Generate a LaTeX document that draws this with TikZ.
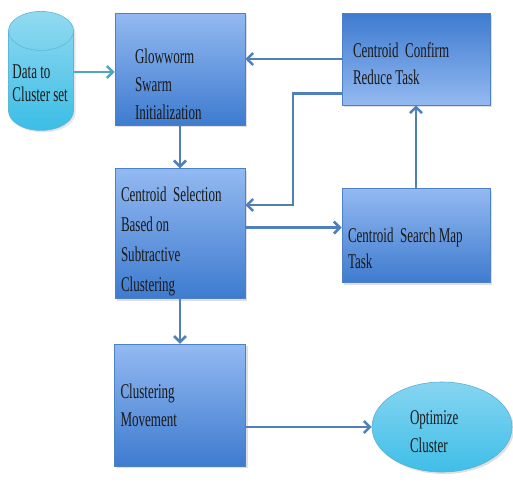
\documentclass[tikz,border=0pt]{standalone}
\usepackage{fontspec}
\setmainfont{Liberation Serif}[FakeStretch=0.62]
\usetikzlibrary{arrows.meta,positioning,shapes.geometric,shadows}

\definecolor{boxtop}{HTML}{93B9F1}
\definecolor{boxbot}{HTML}{3E7BCF}
\definecolor{boxedge}{HTML}{4D80C4}
\definecolor{flowblue}{HTML}{4F80BC}
\definecolor{flowteal}{HTML}{4DA5BE}
\definecolor{cylbody}{HTML}{3BBDE6}
\definecolor{cyltop}{HTML}{92DAF0}
\definecolor{cyledge}{HTML}{5DB8D8}
\definecolor{ovaltop}{HTML}{86D5F1}
\definecolor{ovalbot}{HTML}{3FBEE8}
\definecolor{ovaledge}{HTML}{5AB0D6}

\begin{document}
\begin{tikzpicture}[x=1pt, y=-1pt, node distance=43pt,
  every node/.style={font=\fontsize{21}{28}\selectfont, text=black!90, align=flush left},
  sink/.style={execute at begin node={\rule{0pt}{#1}}},
  lift/.style={execute at end node={\rule[-#1]{0pt}{0pt}}},
  box/.style={rectangle, draw=boxedge, line width=0.6pt, top color=boxtop, bottom color=boxbot,
    inner xsep=6pt, inner ysep=1pt, drop shadow={opacity=0.25, shadow xshift=2pt, shadow yshift=-2pt}},
  flow/.style={draw=flowblue, line width=2.6pt, -{Straight Barb[length=6pt,width=12pt]}}]
\useasboundingbox (0,0) rectangle (513,483);

% input data and the process boxes
\node (data) [cylinder, shape border rotate=90, aspect=0.6, lift=4pt, draw=cyledge, line width=0.6pt,
  top color=cyltop, bottom color=cylbody, minimum width=62pt, minimum height=119pt,
  inner xsep=4pt, text width=57pt, font=\fontsize{21}{23}\selectfont,
  drop shadow={opacity=0.2, shadow xshift=2pt, shadow yshift=-2pt}] at (41,85.5) {Data to\\Cluster set};
\node (glow) [box, sink=46pt, minimum width=130pt, minimum height=112pt, inner xsep=20pt, text width=90pt] at (180,69) {Glowworm\\Swarm\\Initialization};
\node (sel) [box, sink=31pt, below=of glow, minimum width=130pt, minimum height=130pt, text width=118pt,
  font=\fontsize{21}{30}\selectfont] {Centroid\ \ Selection\\Based on\\Subtractive\\Clustering};
\node (move) [box, below=45pt of sel, minimum width=131pt, minimum height=122pt, text width=119pt] {Clustering\\Movement};
\node (conf) [box, sink=25pt, top color=boxbot, bottom color=boxtop, minimum width=148pt, minimum height=92pt,
  inner xsep=11pt, text width=126pt, font=\fontsize{21}{27}\selectfont] at (416,59) {Centroid\ \ Confirm\\Reduce Task};
\node (srch) [box, sink=40pt, below=83pt of conf, minimum width=148pt, minimum height=94pt, text width=136pt,
  font=\fontsize{21}{26}\selectfont] {Centroid\ \ Search Map\\Task};
\node (opt) [ellipse, sink=24pt, draw=ovaledge, line width=0.6pt, top color=ovaltop, bottom color=ovalbot,
  minimum width=140pt, minimum height=90pt, text width=64pt,
  drop shadow={opacity=0.25, shadow xshift=2pt, shadow yshift=-2pt}] at (442,427) {Optimize\\Cluster};

% connectors
\coordinate (turn) at (293,205);
\draw[flow, draw=flowteal] ([yshift=-3pt]glow.west -| data.east) -- ([yshift=-3pt]glow.west);
\draw[flow] (conf.west) -- (conf.west -| glow.east);
\draw[flow] ([yshift=12pt]conf.south west) -| (turn) -- (turn -| sel.east);
\draw[flow] (glow) -- (sel);
\draw[flow] ([yshift=6pt]sel.east) -- ([yshift=6pt]sel.east -| srch.west);
\draw[flow] (srch) -- (conf);
\draw[flow] (sel) -- (move);
\draw[flow] (move.east |- opt.west) -- (opt.west);
\end{tikzpicture}
\end{document}
